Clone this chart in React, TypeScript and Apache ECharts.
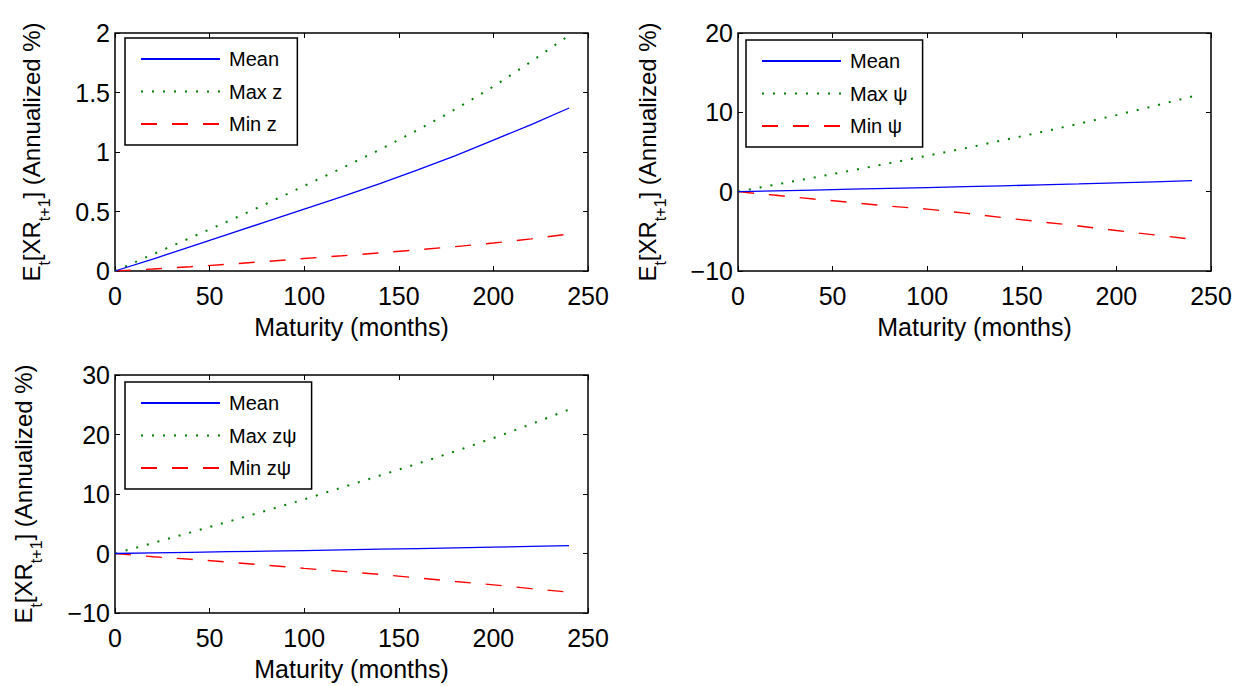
import React, { useEffect, useRef } from 'react';
import * as echarts from 'echarts';

// Maturity in months
const maturities = [0, 20, 40, 60, 80, 100, 120, 140, 160, 180, 200, 220, 240];

// Panel 1: z
const meanZ = [0, 0.1, 0.205, 0.31, 0.415, 0.52, 0.625, 0.735, 0.85, 0.97, 1.1, 1.23, 1.37];
const maxZ = [0, 0.14, 0.28, 0.42, 0.565, 0.715, 0.865, 1.02, 1.185, 1.36, 1.55, 1.76, 1.98];
const minZ = [0, 0.017, 0.036, 0.057, 0.08, 0.105, 0.128, 0.152, 0.178, 0.205, 0.235, 0.27, 0.31];

// Panel 2: psi
const meanPsi = [0, 0.1, 0.205, 0.31, 0.415, 0.52, 0.625, 0.735, 0.85, 0.97, 1.1, 1.24, 1.39];
const maxPsi = [0, 0.9, 1.77, 2.67, 3.58, 4.53, 5.47, 6.48, 7.5, 8.55, 9.65, 10.8, 12.0];
const minPsi = [0, -0.46, -0.93, -1.36, -1.83, -2.2, -2.7, -3.28, -3.8, -4.32, -4.9, -5.45, -6.0];

// Panel 3: z psi
const meanZPsi = [0, 0.1, 0.2, 0.3, 0.4, 0.5, 0.61, 0.72, 0.83, 0.95, 1.07, 1.2, 1.33];
const maxZPsi = [0, 1.75, 3.55, 5.37, 7.2, 9.1, 11.1, 13.1, 15.1, 17.2, 19.4, 21.75, 24.2];
const minZPsi = [0, -0.55, -0.97, -1.45, -1.97, -2.5, -3.0, -3.5, -4.1, -4.7, -5.27, -5.9, -6.5];

const legendNames = [
  ['Mean', 'Max z', 'Min z'],
  ['Mean', 'Max \u03c8', 'Min \u03c8'],
  ['Mean', 'Max z\u03c8', 'Min z\u03c8'],
];
const panelData = [
  [meanZ, maxZ, minZ],
  [meanPsi, maxPsi, minPsi],
  [meanZPsi, maxZPsi, minZPsi],
];
const yRanges = [
  { min: 0, max: 2, interval: 0.5 },
  { min: -10, max: 20, interval: 10 },
  { min: -10, max: 30, interval: 10 },
];
const xRange = { min: 0, max: 250, interval: 50 };
const xName = 'Maturity (months)';
const yName = '{m|E}{s|t}{m|[XR}{s|t+1}{m|] (Annualized %)}';

const FONT = "'Liberation Sans', Arial, Helvetica, sans-serif";
const gridPos = [
  { left: 115, top: 33 },
  { left: 738, top: 33 },
  { left: 115, top: 375 },
];
const legendPos = [
  { left: 125, top: 38 },
  { left: 746, top: 40 },
  { left: 125, top: 382 },
];
const yNameGaps = [70, 77, 78];

const lineStyles = [
  { color: '#0000ff', width: 1.3, type: 'solid' as any },
  { color: '#008000', width: 2, type: [2, 9] as any },
  { color: '#ff0000', width: 1.4, type: [16, 15] as any },
];

const fmt = (v: number) => (v < 0 ? '\u2212' + Math.abs(v) : String(v));

function buildOption() {
  const tick = { inside: true, length: 5, lineStyle: { color: '#000', width: 1 } };
  const grid = gridPos.map((g) => ({
    left: g.left,
    top: g.top,
    width: 473,
    height: 238,
    show: true,
    borderColor: '#000',
    borderWidth: 1.5,
    backgroundColor: 'transparent',
  }));
  const xAxis: any[] = [];
  const yAxis: any[] = [];
  const series: any[] = [];
  gridPos.forEach((_, i) => {
    xAxis.push({
      type: 'value',
      gridIndex: i,
      position: 'bottom',
      ...xRange,
      axisLine: { show: false, onZero: false },
      axisTick: tick,
      axisLabel: { color: '#000', fontSize: 25, fontFamily: FONT, margin: 12.5 },
      splitLine: { show: false },
      name: xName,
      nameLocation: 'middle',
      nameGap: 43,
      nameTextStyle: { color: '#000', fontSize: 25, fontFamily: FONT },
    });
    xAxis.push({
      type: 'value',
      gridIndex: i,
      position: 'top',
      ...xRange,
      axisLine: { show: false, onZero: false },
      axisTick: tick,
      axisLabel: { show: false },
      splitLine: { show: false },
    });
    yAxis.push({
      type: 'value',
      gridIndex: i,
      position: 'left',
      ...yRanges[i],
      axisLine: { show: false, onZero: false },
      axisTick: tick,
      axisLabel: { color: '#000', fontSize: 25, fontFamily: FONT, margin: 5, formatter: fmt },
      splitLine: { show: false },
      name: yName,
      nameLocation: 'middle',
      nameGap: yNameGaps[i],
      nameTextStyle: {
        color: '#000',
        fontSize: 24,
        fontFamily: FONT,
        rich: {
          m: { color: '#000', fontSize: 24, fontFamily: FONT, lineHeight: 26, verticalAlign: 'top' },
          s: { color: '#000', fontSize: 16, fontFamily: FONT, lineHeight: 16, verticalAlign: 'top', padding: [17, 0, 0, 0] },
        },
      },
    });
    yAxis.push({
      type: 'value',
      gridIndex: i,
      position: 'right',
      ...yRanges[i],
      axisLine: { show: false, onZero: false },
      axisTick: tick,
      axisLabel: { show: false },
      splitLine: { show: false },
    });
    panelData[i].forEach((vals, k) => {
      series.push({
        type: 'line',
        name: legendNames[i][k],
        xAxisIndex: 2 * i,
        yAxisIndex: 2 * i,
        symbol: 'none',
        showSymbol: false,
        data: maturities.map((m, j) => [m, vals[j]]),
        lineStyle: lineStyles[k],
        itemStyle: { color: lineStyles[k].color },
        z: 3 - k,
      });
    });
  });
  const legend = legendNames.map((names, i) => ({
    orient: 'vertical',
    left: legendPos[i].left,
    top: legendPos[i].top,
    data: names,
    selectedMode: false,
    itemWidth: 79,
    itemHeight: 14,
    itemGap: 12.5,
    padding: [11, 15, 11, 15],
    borderColor: '#000',
    borderWidth: 1.5,
    backgroundColor: '#fff',
    itemStyle: { opacity: 0 },
    textStyle: { color: '#000', fontSize: 20, fontFamily: FONT, lineHeight: 20, padding: [0, 0, 0, 4] },
  }));
  return {
    animation: false,
    backgroundColor: '#fff',
    grid,
    xAxis,
    yAxis,
    legend,
    series,
  };
}

export default function App() {
  const ref = useRef<HTMLDivElement>(null);
  useEffect(() => {
    if (!ref.current) return;
    const chart = echarts.init(ref.current, undefined, { renderer: 'svg' });
    chart.setOption(buildOption() as any);
    return () => chart.dispose();
  }, []);
  return (
    <div
      ref={ref}
      style={{ position: 'fixed', left: 0, top: 0, width: 1253, height: 686, background: '#fff' }}
    />
  );
}
